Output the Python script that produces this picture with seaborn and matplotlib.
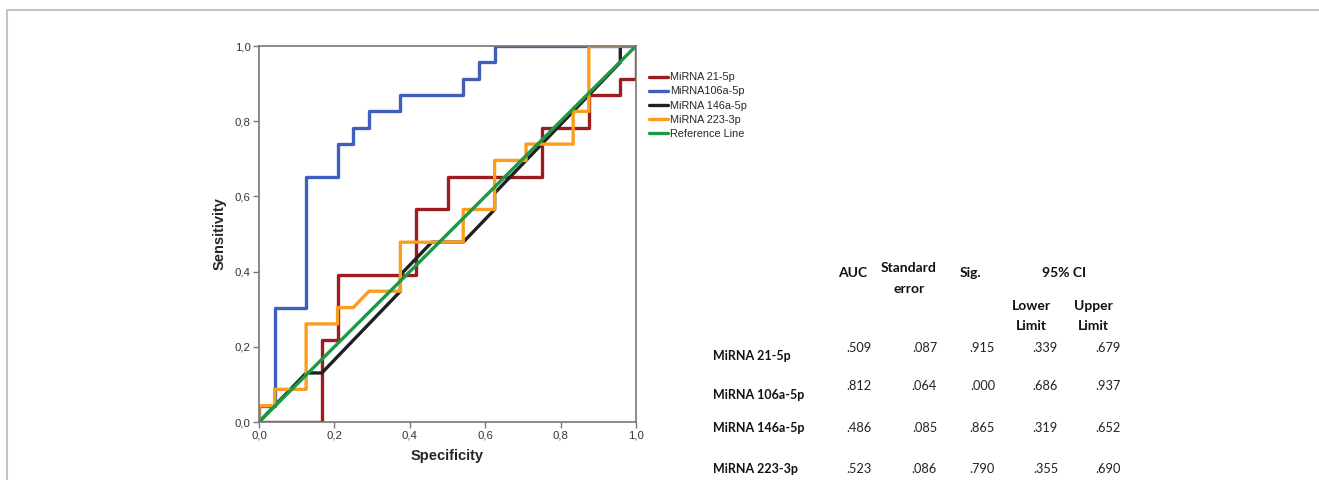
"""
ROC curves for four miRNAs plus the AUC summary table
"""

import matplotlib
matplotlib.use("Agg")
import matplotlib.pyplot as plt
import matplotlib.lines as mlines
from matplotlib.ticker import FuncFormatter
import seaborn as sns
import pandas as pd

# ROC steps, x in 1/24 units of (1 - specificity), y in 1/23 units of sensitivity
N_X = 24
N_Y = 23

RED_X = [0, 4, 4, 5, 5, 10, 10, 12, 12, 18, 18, 21, 21, 23, 23, 24, 24]
RED_Y = [0, 0, 5, 5, 9, 9, 13, 13, 15, 15, 18, 18, 20, 20, 21, 21, 23]

BLUE_X = [0, 0, 1, 1, 3, 3, 5, 5, 6, 6, 7, 7, 9, 9, 13, 13, 14, 14, 15, 15, 24]
BLUE_Y = [0, 1, 1, 7, 7, 15, 15, 17, 17, 18, 18, 19, 19, 20, 20, 21, 21, 22, 22, 23, 23]

BLACK_X = [0, 3, 4, 9, 9, 11, 13, 15, 15, 23, 23, 24]
BLACK_Y = [0, 3, 3, 8, 9, 11, 11, 13, 14, 22, 23, 23]

ORANGE_X = [0, 0, 1, 1, 3, 3, 5, 5, 6, 7, 9, 9, 13, 13, 15, 15, 17, 17, 20, 20, 21, 21, 24]
ORANGE_Y = [0, 1, 1, 2, 2, 6, 6, 7, 7, 8, 8, 11, 11, 13, 13, 16, 16, 17, 17, 19, 19, 23, 23]

REF_X = [0, 1]
REF_Y = [0, 1]

CURVES = ["MiRNA 21-5p", "MiRNA106a-5p", "MiRNA 146a-5p", "MiRNA 223-3p", "Reference Line"]
COLORS = ["#9e1b1f", "#3f5fc0", "#202020", "#fb9e1e", "#1a9a45"]

# summary table
ROW_LABELS = ["MiRNA 21-5p", "MiRNA 106a-5p", "MiRNA 146a-5p", "MiRNA 223-3p"]
AUC = [".509", ".812", ".486", ".523"]
STD_ERR = [".087", ".064", ".085", ".086"]
SIG = [".915", ".000", ".865", ".790"]
CI_LOWER = [".339", ".686", ".319", ".355"]
CI_UPPER = [".679", ".937", ".652", ".690"]


def build_frame():
    rows = []
    steps = [(RED_X, RED_Y), (BLUE_X, BLUE_Y), (BLACK_X, BLACK_Y), (ORANGE_X, ORANGE_Y)]
    for name, (xs, ys) in zip(CURVES[:4], steps):
        for i, (x, y) in enumerate(zip(xs, ys)):
            rows.append({"curve": name, "order": i, "x": x / N_X, "y": y / N_Y})
    for i, (x, y) in enumerate(zip(REF_X, REF_Y)):
        rows.append({"curve": CURVES[4], "order": i, "x": x, "y": y})
    return pd.DataFrame(rows)


def main():
    sns.set_style("white")
    plt.rcParams["font.family"] = ["Liberation Sans", "DejaVu Sans"]

    W, H = 1319, 480
    fig = plt.figure(figsize=(W / 100, H / 100), dpi=100)
    ax = fig.add_axes([259 / W, 1 - 422 / H, 377 / W, 376 / H])

    df = build_frame()
    sns.lineplot(data=df, x="x", y="y", hue="curve", hue_order=CURVES,
                 palette=COLORS, sort=False, estimator=None, linewidth=2.4,
                 legend=False, ax=ax)

    ax.set_xlim(0, 1)
    ax.set_ylim(0, 1)
    ticks = [0, 0.2, 0.4, 0.6, 0.8, 1.0]
    ax.set_xticks(ticks)
    ax.set_yticks(ticks)
    fmt = FuncFormatter(lambda v, p: f"{v:.1f}".replace(".", ","))
    ax.xaxis.set_major_formatter(fmt)
    ax.yaxis.set_major_formatter(fmt)
    ax.tick_params(axis="both", direction="out", length=4, width=1,
                   color="#777777", labelsize=8.2, labelcolor="#333333", pad=2,
                   bottom=True, left=True)
    for s in ax.spines.values():
        s.set_color("#777777")
        s.set_linewidth(1.2)

    ax.set_xlabel("Specificity", fontsize=10.5, fontweight="bold", labelpad=6)
    ax.set_ylabel("Sensitivity", fontsize=10.5, fontweight="bold", labelpad=6)

    handles = [mlines.Line2D([], [], color=c, linewidth=2.4) for c in COLORS]
    ax.legend(handles, CURVES, loc="upper left", bbox_to_anchor=(1.035, 0.93),
              frameon=False, fontsize=7.8, handlelength=1.7, handletextpad=0.2,
              labelspacing=0.38, borderaxespad=0, borderpad=0)

    # table on the right, placed in figure pixels
    def px(x, y):
        return x / W, 1 - y / H

    tfont = ["Lato", "DejaVu Sans"]
    head = dict(fontsize=10, fontweight="bold", family=tfont, ha="center", va="center", color="#111111")
    fig.text(*px(853, 273), "AUC", **head)
    fig.text(*px(909, 268), "Standard", **head)
    fig.text(*px(909, 289), "error", **head)
    fig.text(*px(970, 273), "Sig.", **head)
    fig.text(*px(1064, 273), "95% CI", **head)
    fig.text(*px(1031, 306), "Lower", **head)
    fig.text(*px(1031, 326), "Limit", **head)
    fig.text(*px(1093, 306), "Upper", **head)
    fig.text(*px(1093, 326), "Limit", **head)

    label_y = [356, 395, 428, 469]
    value_y = [348, 386, 428, 469]
    col_right = [872, 937, 995, 1058, 1121]
    cols = [AUC, STD_ERR, SIG, CI_LOWER, CI_UPPER]
    for i, name in enumerate(ROW_LABELS):
        fig.text(*px(713, label_y[i]), name, fontsize=9, fontweight="bold",
                 family=tfont, ha="left", va="center", color="#111111")
        for xr, col in zip(col_right, cols):
            fig.text(*px(xr, value_y[i]), col[i], fontsize=9.2, family=tfont,
                     ha="right", va="center", color="#222222")

    # thin grey border of the original panel
    fig.add_artist(mlines.Line2D([6.5 / W, 6.5 / W, 1], [0, 1 - 9.5 / H, 1 - 9.5 / H],
                                 transform=fig.transFigure, color="#c4c4c4", linewidth=1.5))

    fig.savefig("out.png", dpi=100)
    plt.close(fig)


if __name__ == "__main__":
    main()
